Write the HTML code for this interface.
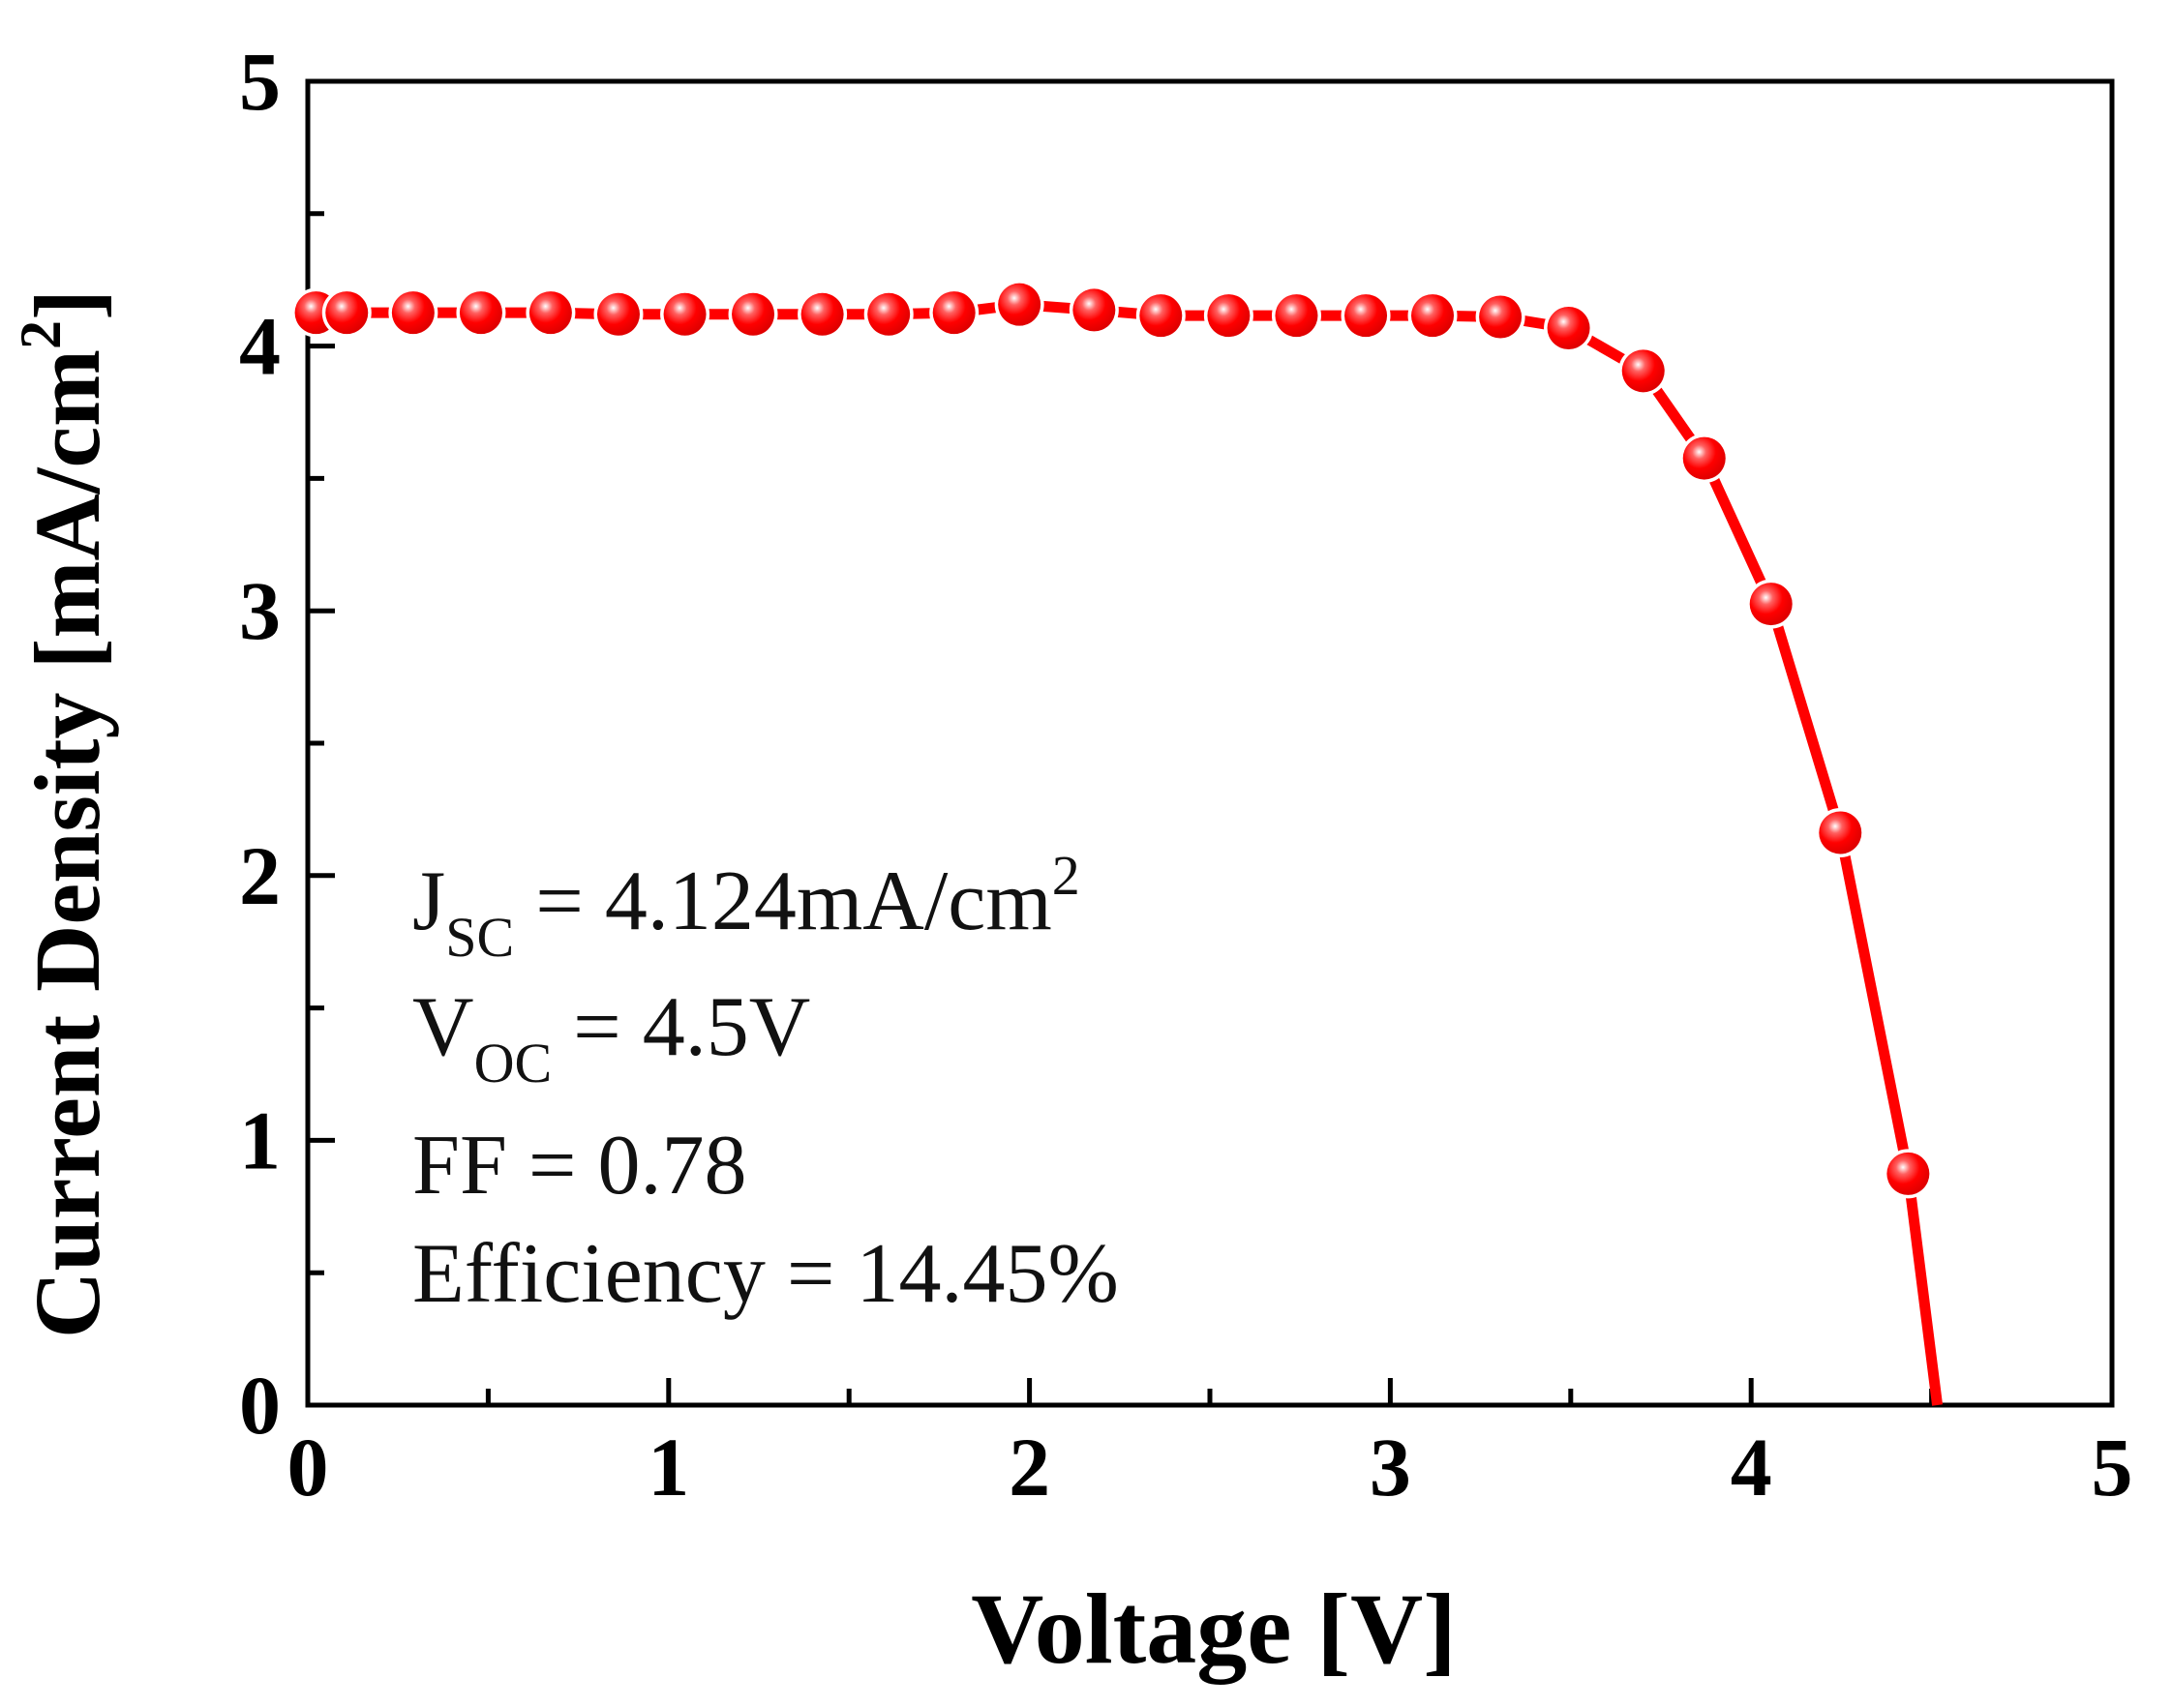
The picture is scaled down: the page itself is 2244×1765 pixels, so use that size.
<!DOCTYPE html>
<html><head><meta charset="utf-8"><style>
html,body{margin:0;padding:0;background:#fff;}
svg{display:block;font-family:"Liberation Serif",serif;}
</style></head><body>
<svg id="chart" width="2244" height="1765" viewBox="0 0 2244 1765" xmlns="http://www.w3.org/2000/svg">
<defs>
<radialGradient id="ball" cx="0.38" cy="0.35" r="0.65">
<stop offset="0" stop-color="#fff"/><stop offset="0.25" stop-color="#ff6060"/><stop offset="0.6" stop-color="#ff0000"/><stop offset="1" stop-color="#e00000"/>
</radialGradient>
</defs>
<g id="axes"></g>
<g id="series"></g>
<g font-size="88" fill="#111">
<text x="426" y="960">J<tspan font-size="58" dy="28">SC</tspan><tspan dy="-28"> = 4.124mA/cm</tspan><tspan font-size="58" dy="-36">2</tspan></text>
<text x="426" y="1090">V<tspan font-size="58" dy="28">OC</tspan><tspan dy="-28"> = 4.5V</tspan></text>
<text x="426" y="1233">FF = 0.78</text>
<text x="426" y="1345">Efficiency = 14.45%</text>
</g>
<text x="1254" y="1718" text-anchor="middle" font-size="104" font-weight="bold">Voltage [V]</text>
<text transform="translate(102,841) rotate(-90)" text-anchor="middle" font-size="96" font-weight="bold">Current Density [mA/cm<tspan font-size="60" dy="-40">2</tspan><tspan dy="40">]</tspan></text>
</svg>
<script>
const voltage = [0.023,0.108,0.292,0.48,0.673,0.861,1.045,1.234,1.426,1.61,1.791,1.972,2.179,2.364,2.552,2.74,2.932,3.117,3.305,3.494,3.701,3.87,4.055,4.247,4.435];
const current = [4.126,4.126,4.126,4.126,4.126,4.12,4.12,4.12,4.12,4.12,4.126,4.157,4.136,4.115,4.115,4.115,4.115,4.115,4.11,4.068,3.906,3.576,3.026,2.162,0.874];
const endVoltage = [4.516];
const endCurrent = [0];
const xTicks = [0,1,2,3,4,5];
const yTicks = [0,1,2,3,4,5];
const X0=318,X1=2182,Y0=1452,Y1=84;
const xs=v=>X0+(v/5)*(X1-X0);
const ys=v=>Y0-(v/5)*(Y0-Y1);
const NS='http://www.w3.org/2000/svg';
function mk(t,a,p){const e=document.createElementNS(NS,t);for(const k in a)e.setAttribute(k,a[k]);p.appendChild(e);return e;}
const ax=document.getElementById('axes');
const frame=mk('rect',{x:X0,y:Y1,width:X1-X0,height:Y0-Y1,fill:'none',stroke:'#000','stroke-width':5},ax);


for(let i=0;i<xTicks.length;i++){
  const v=xTicks[i];
  const t=mk('line',{x1:xs(v),x2:xs(v),y1:Y0,y2:Y0-28,stroke:'#000','stroke-width':5},ax);
  
  
  if(i<xTicks.length-1){const m=mk('line',{x1:xs(v+0.5),x2:xs(v+0.5),y1:Y0,y2:Y0-17,stroke:'#000','stroke-width':5},ax);
  
  }
  const l=mk('text',{x:xs(v),y:1545,'text-anchor':'middle','font-size':86,'font-weight':'bold'},ax);
  
  
  l.textContent=v;
}
for(let i=0;i<yTicks.length;i++){
  const v=yTicks[i];
  const t=mk('line',{x1:X0,x2:X0+28,y1:ys(v),y2:ys(v),stroke:'#000','stroke-width':5},ax);
  
  
  if(i<yTicks.length-1){const m=mk('line',{x1:X0,x2:X0+17,y1:ys(v+0.5),y2:ys(v+0.5),stroke:'#000','stroke-width':5},ax);
  
  }
  const l=mk('text',{x:290,y:ys(v)+29,'text-anchor':'end','font-size':86,'font-weight':'bold'},ax);
  
  
  l.textContent=v;
}
const sg=document.getElementById('series');
const pts=voltage.map((v,i)=>[xs(v),ys(current[i])]).concat(endVoltage.map((v,i)=>[xs(v),ys(endCurrent[i])]));
const pl=mk('polyline',{points:pts.map(p=>p.join(',')).join(' '),fill:'none',stroke:'#ff0000','stroke-width':11,'stroke-linejoin':'round'},sg);


for(let i=0;i<voltage.length;i++){
  const c=mk('circle',{cx:xs(voltage[i]),cy:ys(current[i]),r:22,fill:'url(#ball)',stroke:'#fff','stroke-width':7,'paint-order':'stroke'},sg);
  
  
}
</script>
</body></html>
